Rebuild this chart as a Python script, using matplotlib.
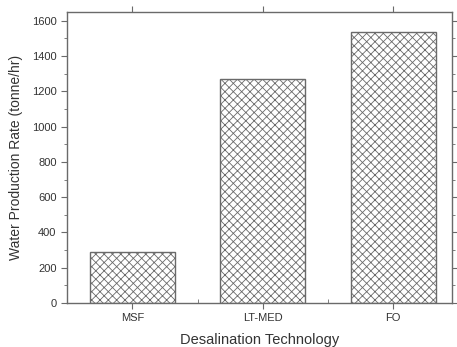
import matplotlib
matplotlib.use('Agg')
from matplotlib import pyplot as plt
from matplotlib.ticker import MultipleLocator

plt.rcParams['font.family'] = ['Liberation Sans', 'DejaVu Sans']
plt.rcParams['hatch.color'] = '#a8a8a8'
plt.rcParams['hatch.linewidth'] = 0.6

# Dados
tecnologias = ['MSF', 'LT-MED', 'FO']
producao = [288, 1270, 1535]

fig = plt.figure(figsize=(4.57, 3.47), dpi=100)
ax = fig.add_axes([67 / 457, 1 - 303 / 347, (452 - 67) / 457, (303 - 12) / 347])

x = range(len(tecnologias))
ax.bar(x, producao, width=0.65, color='white', edgecolor='#6a6a6a',
       linewidth=1.0, hatch='xxxx')

ax.set_xlim(-0.5, 2.45)
ax.set_ylim(0, 1650)
ax.set_xticks(list(x))
ax.set_xticklabels(tecnologias)
ax.set_xticks([0.5, 1.5], minor=True)
ax.yaxis.set_major_locator(MultipleLocator(200))
ax.yaxis.set_minor_locator(MultipleLocator(100))

for s in ax.spines.values():
    s.set_color('#6a6a6a')
    s.set_linewidth(1.0)

ax.tick_params(axis='both', which='both', colors='#6a6a6a', labelcolor='#333333',
               labelsize=8)
ax.tick_params(axis='y', which='major', length=4, direction='out')
ax.tick_params(axis='y', which='minor', length=2.5, direction='out')
ax.tick_params(axis='x', which='major', length=4, direction='out')
ax.tick_params(axis='x', which='minor', length=3, direction='in')
ax.tick_params(right=True, top=True, which='both')
ax.tick_params(axis='x', which='minor', top=False)

ax.set_xlabel('Desalination Technology', fontsize=10.5, color='#333333', labelpad=7)
ax.set_ylabel('Water Production Rate (tonne/hr)', fontsize=10, color='#333333', labelpad=6)

plt.savefig('out.png', dpi=100)
